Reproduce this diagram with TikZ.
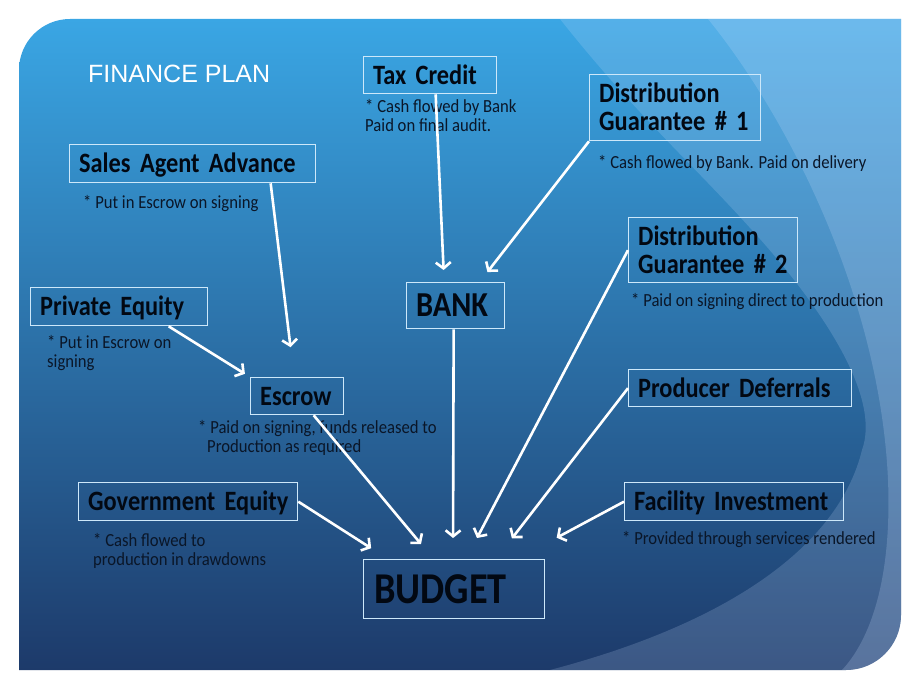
\documentclass[tikz,border=0pt]{standalone}
\usepackage{fontspec}
\setmainfont{Carlito}[FakeStretch=0.87]
\newfontfamily\notefamily{Carlito}[FakeStretch=0.9]
\newfontfamily\titlefamily{Liberation Sans}
\usetikzlibrary{arrows.meta}
\newcommand\headfont{\bfseries\fontsize{28}{27.7}\selectfont\fontdimen2\font=5.5pt\relax}
\definecolor{slidetop}{RGB}{58,166,228}
\definecolor{slidemid}{RGB}{45,124,192}
\definecolor{slidebot}{RGB}{29,58,106}
\definecolor{swoosh}{RGB}{205,225,255}
\definecolor{boxline}{RGB}{205,232,250}
\definecolor{headtext}{RGB}{2,8,18}
\definecolor{notetext}{RGB}{10,22,40}
\tikzset{
  srcbox/.style={draw=boxline, line width=1.3pt, inner xsep=9.5pt, inner ysep=0pt,
    anchor=north west, text=headtext, font=\headfont, text height=18pt, text depth=0pt},
  note/.style={anchor=base west, inner sep=0pt, align=left, text=notetext,
    font=\notefamily\fontsize{18.5}{18.6}\selectfont},
  flow/.style={draw=white, line width=2.6pt, -{Straight Barb[length=6pt,width=15pt]}},
}
\begin{document}
\begin{tikzpicture}[x=1pt,y=-1pt]
\useasboundingbox (0,0) rectangle (920,690);
% slide and its swooshes
\begin{scope}
\clip (19,670) -- (19,70) arc[start angle=180,end angle=270,radius=51] -- (901,19)
  -- (901,615) arc[start angle=0,end angle=90,radius=55] -- cycle;
\shade[top color=slidetop, middle color=slidemid, bottom color=slidebot] (19,19) rectangle (901,670);
\fill[swoosh, opacity=0.18] (560,19) .. controls (640,120) and (700,170) .. (767,247)
  .. controls (830,320) and (880,400) .. (862,450)
  .. controls (840,540) and (740,620) .. (550,670) -- (901,670) -- (901,19) -- cycle;
\fill[swoosh, opacity=0.2] (708,19) .. controls (790,120) and (880,300) .. (888,480)
  .. controls (892,580) and (870,640) .. (842,670) -- (901,670) -- (901,19) -- cycle;
\end{scope}
\node[anchor=base west, inner sep=0pt, text=white, font=\titlefamily\fontsize{25}{25}\selectfont] (title) at (88,83) {FINANCE PLAN};
% sources
\node[srcbox, text width=114pt, minimum height=37pt] (taxcredit) at (363,56) {\mbox{Tax Credit}};
\node[srcbox, text width=152pt, minimum height=66pt, text depth=27.7pt] (dgone) at (589,74) {\mbox{Distribution}\\\mbox{Guarantee \# 1}};
\node[srcbox, text width=227pt, minimum height=38pt] (sales) at (69,144) {\mbox{Sales Agent Advance}};
\node[srcbox, text width=158pt, minimum height=38pt] (private) at (30,287) {\mbox{Private Equity}};
\node[srcbox, text width=79pt, minimum height=46pt, text height=22pt,
  font=\bfseries\fontsize{35}{35}\selectfont] (bank) at (406,282) {BANK};
\node[srcbox, text width=150pt, minimum height=65pt, text depth=27.7pt] (dgtwo) at (628,217) {\mbox{Distribution}\\\mbox{Guarantee \# 2}};
\node[srcbox, text width=74pt, minimum height=37pt] (escrow) at (250,377) {Escrow};
\node[srcbox, text width=200pt, minimum height=38pt] (gov) at (78,482) {\mbox{Government Equity}};
\node[srcbox, text width=204pt, minimum height=37pt] (producer) at (628,369) {\mbox{Producer Deferrals}};
\node[srcbox, text width=200pt, minimum height=38pt] (facility) at (624,482) {\mbox{Facility Investment}};
\node[srcbox, text width=160pt, minimum height=59pt, inner xsep=10.5pt, text height=28pt,
  font=\bfseries\fontsize{44}{44}\selectfont] (budget) at (363,559) {BUDGET};
% notes under the boxes (multi-line ones sit on their last line)
\node[note] (taxnote) at (365,131.5) {* Cash flowed by Bank\\Paid on final audit.};
\node[note] (dgonenote) at (598,168) {* Cash flowed by Bank. Paid on delivery};
\node[note] (salesnote) at (83,208) {* Put in Escrow on signing};
\node[note] (privatenote) at (47,367.5) {* Put in Escrow on\\signing};
\node[note] (dgtwonote) at (631,306) {* Paid on signing direct to production};
\node[note] (escrownote) at (198,452) {* Paid on signing, funds released to\\\hspace*{9pt}Production as required};
\node[note] (govnote) at (93,565) {* Cash flowed to\\production in drawdowns};
\node[note] (facilitynote) at (622,544) {* Provided through services rendered};
% arrows
\draw[flow, shorten >=12pt] ([xshift=5.5pt]taxcredit.south) -- ([xshift=-11.5pt]bank.north);
\draw[flow, shorten >=12.6pt] (dgone.south west) -- ([xshift=24pt]bank.north);
\draw[flow, shorten >=30pt] ([xshift=78pt]sales.south) -- ([xshift=-3pt]escrow.north);
\draw[flow, shorten >=6pt] ([xshift=49.5pt]private.south) -- (escrow.north west);
\foreach \src/\sx/\dx/\cut in {gov.east/0/25/20, escrow.south/16.5/70.5/19.5,
  bank.south/-2/90/21, dgtwo.west/0/103/23.7, producer.west/0/133/26, facility.west/0/154/45}
  \draw[flow, shorten >=\cut pt] ([xshift=\sx pt]\src) -- ([xshift=\dx pt]budget.north west);
\end{tikzpicture}
\end{document}
